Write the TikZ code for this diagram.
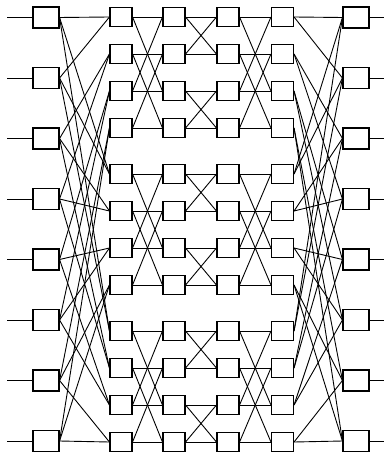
\documentclass[tikz,border=0pt]{standalone}
\usetikzlibrary{positioning}
\begin{document}
\begin{tikzpicture}[
  x=1pt, y=-1pt,
  outerbox/.style={draw, line width=1.1pt, minimum width=26pt, minimum height=21pt, inner sep=0pt},
  innerbox/.style={draw, line width=1.1pt, minimum width=22pt, minimum height=19pt, inner sep=0pt},
  link/.style={line width=0.9pt}
]
\useasboundingbox (0,0) rectangle (384,454);

% input and output switches
\foreach \i in {0,...,7} {
  \node[outerbox] (in\i) at (46,17.5+60.5*\i) {};
  \node[outerbox] (out\i) at (356,17.5+60.5*\i) {};
  \coordinate (src\i) at (7,17.5+60.5*\i);
  \coordinate (dst\i) at (384,17.5+60.5*\i);
  \draw[link] (src\i) -- (in\i.west);
  \draw[link] (out\i.east) -- (dst\i);
}

% middle stages: 3 blocks of 4 rows, 4 columns
\foreach \c/\x in {1/121,2/174,3/228,4/282.5}
  \foreach \g in {0,1,2}
    \foreach \r in {0,...,3}
      \node[innerbox] (m\c-\g-\r) at (\x,17+157*\g+37*\r) {};

% input switches to first column, last column to output switches
\foreach \i in {0,...,7}
  \foreach \g in {0,1,2} {
    \pgfmathtruncatemacro{\r}{int(\i/2)}
    \draw[link] (in\i.east) -- (m1-\g-\r.west);
    \draw[link] (m4-\g-\r.east) -- (out\i.west);
  }

% butterflies inside each block
\foreach \g in {0,1,2}
  \foreach \r in {0,...,3} {
    \pgfmathtruncatemacro{\far}{mod(\r+2,4)}
    \pgfmathtruncatemacro{\near}{\r+1-2*mod(\r,2)}
    \draw[link] (m1-\g-\r.east) -- (m2-\g-\r.west);
    \draw[link] (m1-\g-\r.east) -- (m2-\g-\far.west);
    \draw[link] (m2-\g-\r.east) -- (m3-\g-\r.west);
    \draw[link] (m2-\g-\r.east) -- (m3-\g-\near.west);
    \draw[link] (m3-\g-\r.east) -- (m4-\g-\r.west);
    \draw[link] (m3-\g-\r.east) -- (m4-\g-\far.west);
  }
\end{tikzpicture}
\end{document}
